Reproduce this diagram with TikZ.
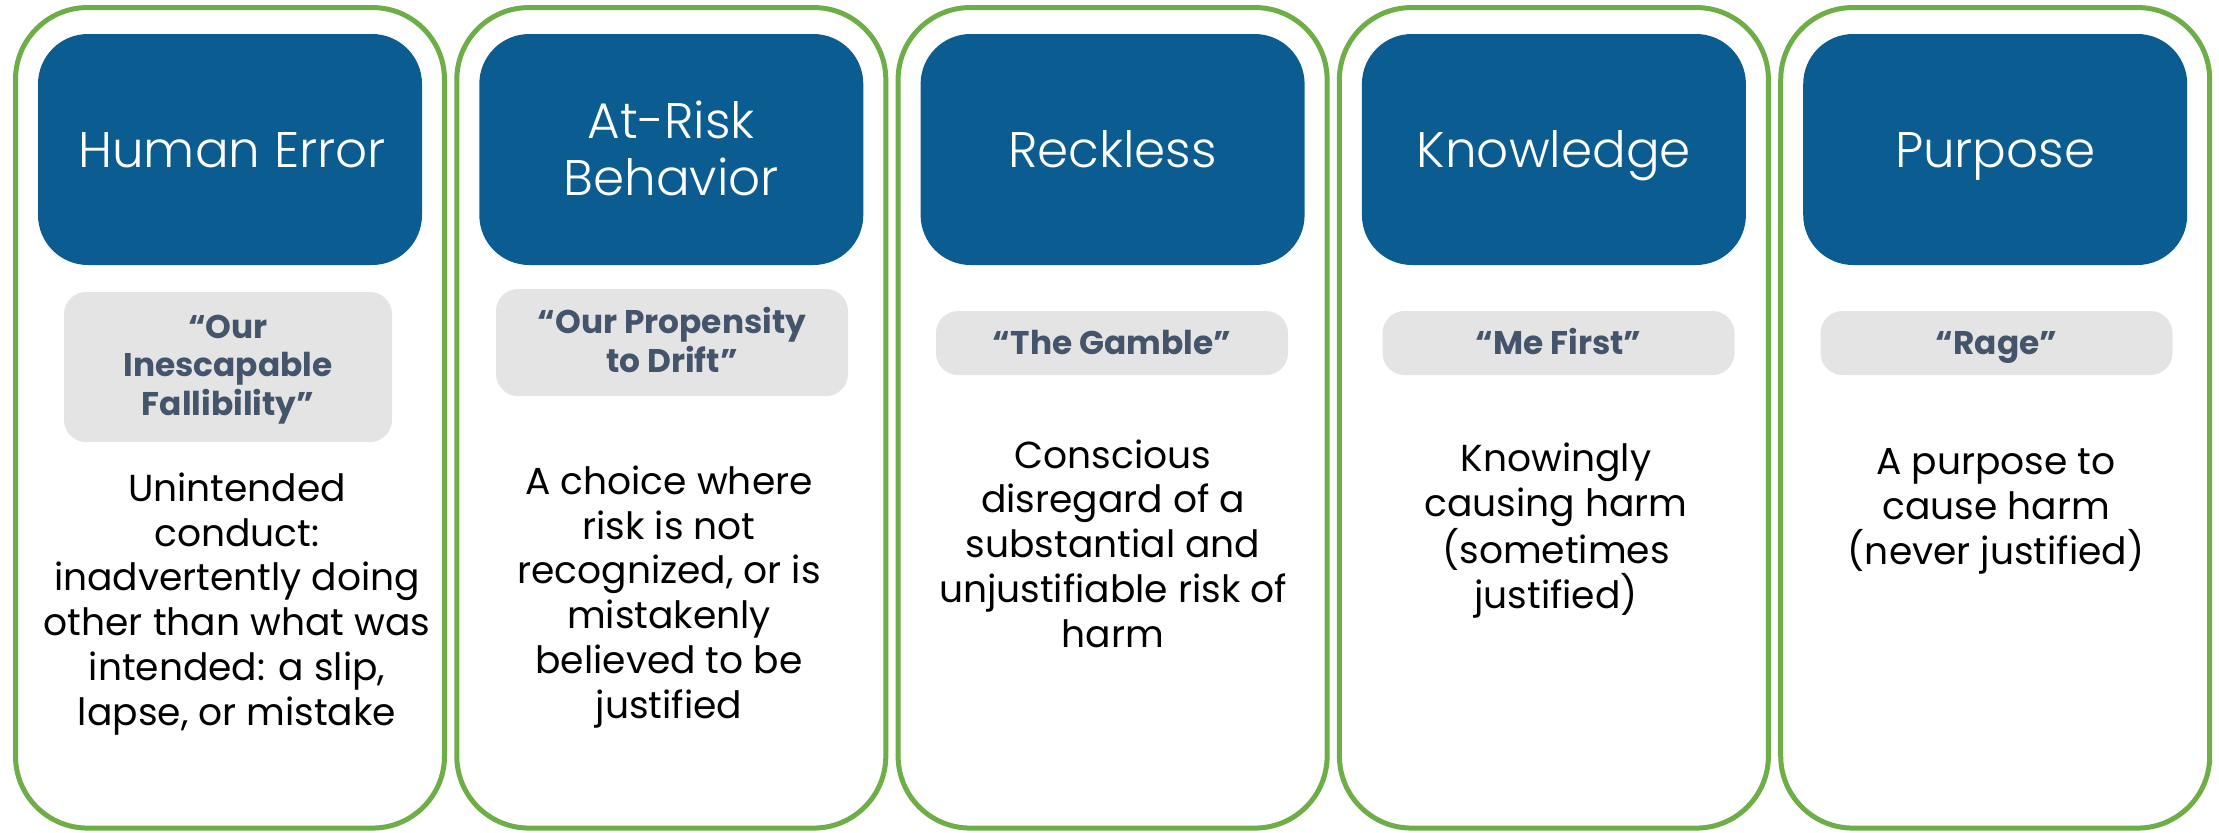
\documentclass[tikz,border=0pt]{standalone}
\usepackage{fontspec}
\setmainfont{Poppins}
\newfontfamily\titlefont{Poppins Light}
\definecolor{pgreen}{HTML}{6DAE47}
\definecolor{pblue}{HTML}{0B5D91}
\definecolor{pgray}{HTML}{E4E4E4}
\definecolor{ptag}{HTML}{44546A}
\tikzset{
  panel/.style={draw=pgreen, line width=2.5pt, rounded corners=36pt,
    minimum width=214.5pt, minimum height=410.25pt, inner sep=0pt},
  headbox/.style={fill=pblue, rounded corners=25pt,
    minimum width=192pt, minimum height=115.5pt, inner sep=0pt},
  tagbox/.style={fill=pgray, rounded corners=11pt, inner sep=0pt},
  % multi-line texts are placed by the baseline of their last line
  headtext/.style={anchor=base, text=white, align=center, inner sep=0pt,
    font=\titlefont\fontsize{25}{28.5}\selectfont},
  tagtext/.style={anchor=base, text=ptag, align=center, inner sep=0pt,
    font=\bfseries\fontsize{16.4}{19.25}\selectfont},
  bodytext/.style={anchor=base, text=black, align=center, inner sep=0pt,
    font=\fontsize{18.8}{22.35}\selectfont},
}
\begin{document}
\begin{tikzpicture}[x=0.5pt, y=-0.5pt]
\useasboundingbox (0,0) rectangle (2219,832);

% outer frames and heading boxes
\foreach \i/\cx in {1/230, 2/671.3, 3/1112.6, 4/1553.9, 5/1995.2} {
  \node[panel] (panel\i) at (\cx, 417.8) {};
  \node[headbox] (head\i) at (\cx, 149.5) {};
}

% column 1
\node[headtext] (title1) at (232, 167) {Human Error};
\node[tagbox, minimum width=164pt, minimum height=75pt] (tag1) at (228, 367) {};
\node[tagtext] (tagtext1) at (228, 415) {\char"201C Our\\Inescapable\\Fallibility\char"201D};
\node[bodytext] (body1) at (237, 725) {Unintended\\conduct:\\inadvertently doing\\other than what was\\intended: a slip,\\lapse, or mistake};

% column 2
\node[headtext] (title2) at (671.3, 195) {At-Risk\\Behavior};
\node[tagbox, minimum width=176pt, minimum height=53.5pt] (tag2) at (672, 342.5) {};
\node[tagtext] (tagtext2) at (672, 372) {\char"201C Our Propensity\\to Drift\char"201D};
\node[bodytext] (body2) at (669, 718) {A choice where\\risk is not\\recognized, or is\\mistakenly\\believed to be\\justified};

% column 3
\node[headtext] (title3) at (1112.6, 167) {Reckless};
\node[tagbox, minimum width=176pt, minimum height=32pt] (tag3) at (1112, 343) {};
\node[tagtext] (tagtext3) at (1112, 354) {\char"201C The Gamble\char"201D};
\node[bodytext] (body3) at (1113, 647) {Conscious\\disregard of a\\substantial and\\unjustifiable risk of\\harm};

% column 4
\node[headtext] (title4) at (1553.9, 167) {Knowledge};
\node[tagbox, minimum width=176pt, minimum height=32pt] (tag4) at (1558.5, 343) {};
\node[tagtext] (tagtext4) at (1558.5, 354) {\char"201C Me First\char"201D};
\node[bodytext] (body4) at (1556, 608) {Knowingly\\causing harm\\(sometimes\\justified)};

% column 5
\node[headtext] (title5) at (1995.2, 167) {Purpose};
\node[tagbox, minimum width=176pt, minimum height=32pt] (tag5) at (1996.5, 343) {};
\node[tagtext] (tagtext5) at (1996.5, 354) {\char"201C Rage\char"201D};
\node[bodytext] (body5) at (1996, 564) {A purpose to\\cause harm\\(never justified)};
\end{tikzpicture}
\end{document}
